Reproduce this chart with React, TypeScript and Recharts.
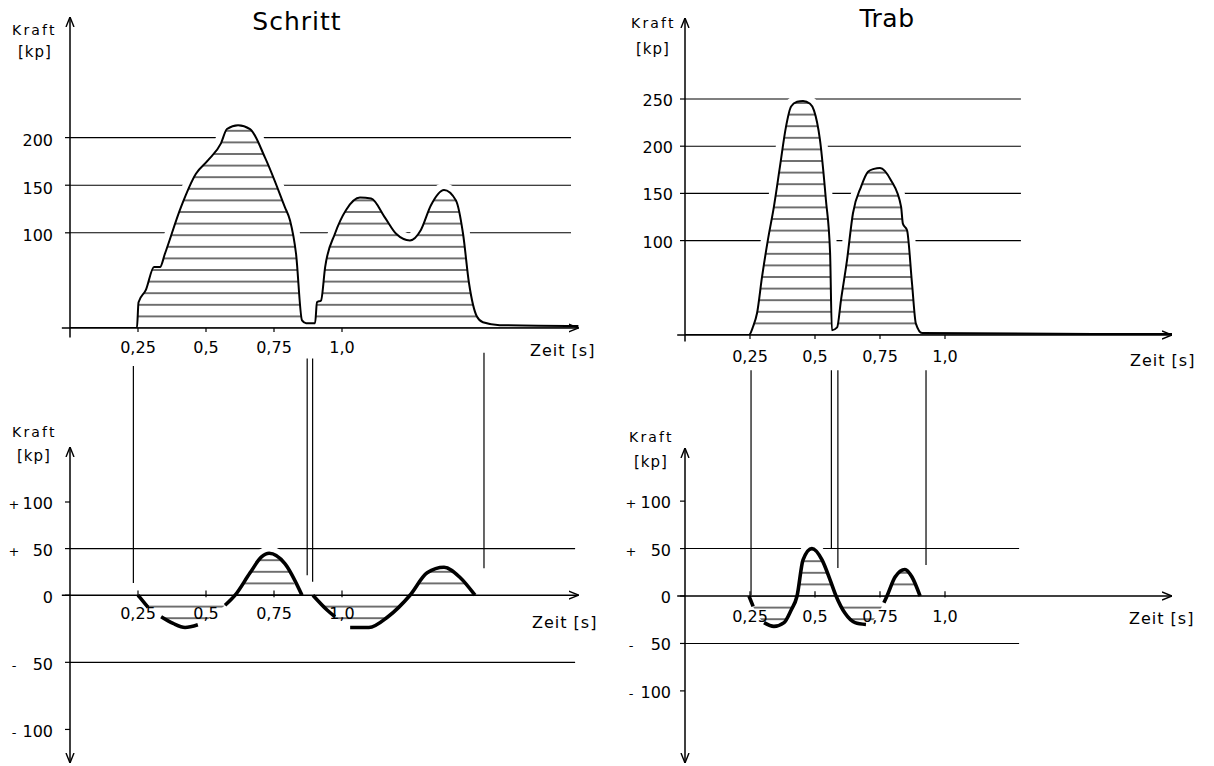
import React from 'react';
import { ComposedChart, Area, Line, XAxis, YAxis, ReferenceLine } from 'recharts';

const PAGE_W = 1214;
const PAGE_H = 766;
const FONT = '"DejaVu Sans", Verdana, sans-serif';

// ---------- data ----------
const timeTicks = [0.25, 0.5, 0.75, 1.0];
const timeTickLabels = ['0,25', '0,5', '0,75', '1,0'];

// Schritt – vertical force (kp)
const schrittVertT = [0, 0.246, 0.252, 0.279, 0.309, 0.331, 0.349, 0.408, 0.463, 0.507, 0.555, 0.577, 0.618, 0.662, 0.717, 0.79, 0.809, 0.831, 0.853, 0.868, 0.901, 0.908, 0.923, 0.938, 0.974, 1.015, 1.066, 1.107, 1.158, 1.199, 1.25, 1.29, 1.327, 1.375, 1.419, 1.445, 1.467, 1.496, 1.518, 1.58, 1.87];
const schrittVertV = [0, 0, 27, 40, 64, 64, 78, 127, 162, 176, 194, 209, 213, 209, 179, 127, 113, 78, 8, 5, 5, 27, 29, 64, 99, 124, 137, 136, 116, 99, 92, 103, 129, 145, 134, 99, 47, 12, 6, 3, 2];
const schrittVertTicks = [100, 150, 200];
const schrittVertGrid = [100, 150, 200];

// Schritt – longitudinal force (kp)
const schrittQuerT = [0.25, 0.287, 0.335, 0.379, 0.423, 0.47, 0.57, 0.607, 0.662, 0.704, 0.732, 0.79, 0.853, 0.893, 0.945, 0.974, 1.03, 1.099, 1.169, 1.25, 1.313, 1.375, 1.434, 1.489];
const schrittQuerV = [0, -9, -16, -21, -24, -22, -7.5, 0, 24, 41, 45, 34, 0, 0, -11, -16, -24, -24, -16, 0, 24, 30, 19, 0];
const schrittQuerGaps = [0.31, 0.52, 0.873, 1.0];
const querTicks = [-100, -50, 0, 50, 100];
const querGrid = [50, -50];

// Schritt – connecting marker lines (time, lower end, upper end in kp of lower panel)
const schrittMarkT = [0.233, 0.872, 0.892, 1.522];
const schrittMarkFrom = [13, 21.5, 14.5, 29];
const schrittMarkTo = [246, 254, 254, 260];

// Trab – vertical force (kp)
const trabVertT = [0, 0.246, 0.262, 0.277, 0.296, 0.319, 0.342, 0.365, 0.388, 0.408, 0.431, 0.454, 0.481, 0.496, 0.519, 0.542, 0.558, 0.565, 0.585, 0.6, 0.623, 0.646, 0.677, 0.704, 0.727, 0.75, 0.792, 0.831, 0.838, 0.854, 0.873, 0.888, 0.912, 1.873];
const trabVertV = [0, 0, 9, 23, 61, 101, 136, 178, 220, 242, 247, 248, 245, 238, 207, 143, 87, 5, 8, 37, 79, 129, 157, 173, 176, 177, 164, 136, 118, 111, 55, 12, 2, 1];
const trabVertTicks = [100, 150, 200, 250];
const trabVertGrid = [100, 150, 200, 250];

// Trab – longitudinal force (kp)
const trabQuerT = [0.246, 0.262, 0.304, 0.342, 0.381, 0.408, 0.431, 0.454, 0.488, 0.527, 0.558, 0.581, 0.615, 0.654, 0.696, 0.765, 0.777, 0.808, 0.846, 0.873, 0.904];
const trabQuerV = [0, -11, -28, -32, -28, -15, 0, 38, 50, 38, 17, 0, -18, -28, -30, -7, 0, 20, 28, 20, 0];
const trabQuerGaps = [0.283, 0.73];

const trabMarkT = [0.254, 0.563, 0.588, 0.927];
const trabMarkFrom = [1, 50, 29.5, 32.6];
const trabMarkTo = [238, 238, 238, 238];

// ---------- helpers ----------
type Pt = { t: number; v: number | null };
const zip = (ts: number[], vs: number[]): Pt[] => ts.map((t, i) => ({ t, v: vs[i] }));
const withGaps = (ts: number[], vs: number[], gaps: number[]): Pt[] =>
  [...zip(ts, vs), ...gaps.map((g) => ({ t: g, v: null }))].sort((a, b) => a.t - b.t);

// piecewise-linear scale: negative side stretched by factor k (as in the drawn axis)
function makeWarpScale(k: number): any {
  let dom: number[] = [0, 1];
  let rng: number[] = [0, 1];
  const w = (v: number) => (v < 0 ? v * k : v);
  const uw = (u: number) => (u < 0 ? u / k : u);
  const scale: any = (v: number) => {
    const a = w(dom[0]);
    const b = w(dom[dom.length - 1]);
    return rng[0] + ((w(v) - a) / (b - a)) * (rng[rng.length - 1] - rng[0]);
  };
  scale.domain = (d?: any) => {
    if (d === undefined) return dom.slice();
    dom = Array.from(d).map(Number);
    return scale;
  };
  scale.range = (r?: any) => {
    if (r === undefined) return rng.slice();
    rng = Array.from(r).map(Number);
    return scale;
  };
  scale.copy = () => makeWarpScale(k).domain(dom).range(rng);
  scale.invert = (px: number) => {
    const a = w(dom[0]);
    const b = w(dom[dom.length - 1]);
    return uw(a + ((px - rng[0]) / (rng[rng.length - 1] - rng[0])) * (b - a));
  };
  scale.ticks = () => querTicks.slice();
  scale.tickFormat = () => (v: number) => String(v);
  scale.nice = () => scale;
  return scale;
}

const XTick = (props: any) => {
  const { x, y, payload } = props;
  const i = timeTicks.indexOf(payload.value);
  return (
    <text x={x} y={y} dy="0.71em" textAnchor="middle" fontFamily={FONT} fontSize={16} fill="#000">
      {i >= 0 ? timeTickLabels[i] : ''}
    </text>
  );
};

const YTick = (props: any) => {
  const { x, y, payload, signed, signDx, ddy } = props;
  const v = payload.value as number;
  const sign = v > 0 ? '+' : v < 0 ? '-' : '';
  return (
    <g>
      <text x={x} y={y + ddy} textAnchor="end" fontFamily={FONT} fontSize={16} fill="#000">
        {signed ? Math.abs(v) : v}
      </text>
      {signed && sign ? (
        <text x={x + signDx} y={y + ddy} textAnchor="middle" fontFamily={FONT} fontSize={13} fill="#000">
          {sign}
        </text>
      ) : null}
    </g>
  );
};

type PanelCfg = {
  id: string;
  plot: { left: number; right: number; top: number; bottom: number };
  xMax: number;
  yDomain: [number, number];
  yScale?: any;
  yTicks: number[];
  signed: boolean;
  lower: boolean;
  data: Pt[];
  pen: Pt[];
  penWidth: number;
  grid: number[];
  gridEnd: number;
  markT: number[];
  markFrom: number[];
  markTo: number[];
  hatchY: number;
  yTickMargin: number;
  xTickMargin: number;
  ddy: number;
  signDx: number;
  extY: number;
  labelOffset: number;
};

function Panel({ c }: { c: PanelCfg }) {
  const { left, right, top, bottom } = c.plot;
  const arrow = `arrow-${c.id}`;
  const hatch = `hatch-${c.id}`;
  const HH = 11.6;
  const margin = {
    top,
    left: left - 1,
    right: PAGE_W - right,
    bottom: c.lower ? PAGE_H - bottom : PAGE_H - bottom - 1,
  };
  const arrowLine = (p: any) => (
    <line x1={p.x1} y1={p.y1} x2={p.x2} y2={p.y2} stroke="#000" strokeWidth={1.5} markerEnd={`url(#${arrow})`} />
  );
  return (
    <div style={{ position: 'absolute', left: 0, top: 0 }}>
      <ComposedChart width={PAGE_W} height={PAGE_H} margin={margin}>
        <defs>
          <marker id={arrow} viewBox="0 0 10 10" refX="10" refY="5" markerWidth="10" markerHeight="10" markerUnits="userSpaceOnUse" orient="auto-start-reverse">
            <path d="M0,1 L10,5 L0,9" fill="none" stroke="#000" strokeWidth="1.4" />
          </marker>
          <pattern id={hatch} patternUnits="userSpaceOnUse" x={0} y={c.hatchY - HH / 2} width={10} height={HH}>
            <line x1={0} x2={10} y1={HH / 2} y2={HH / 2} stroke="#000" strokeWidth={1.1} />
          </pattern>
        </defs>

        {c.grid.map((g) => (
          <ReferenceLine
            key={'g' + g}
            segment={[{ x: 0, y: g }, { x: c.gridEnd, y: g }]}
            stroke="#000"
            strokeWidth={1.1}
            ifOverflow="visible"
            zIndex={-100}
          />
        ))}

        <Area
          data={c.data}
          dataKey="v"
          type="monotone"
          stroke="#fff"
          strokeWidth={14}
          fill="#fff"
          fillOpacity={1}
          baseValue={0}
          dot={false}
          activeDot={false}
          isAnimationActive={false}
        />
        <Area
          data={c.data}
          dataKey="v"
          type="monotone"
          stroke="none"
          fill={`url(#${hatch})`}
          fillOpacity={1}
          baseValue={0}
          dot={false}
          activeDot={false}
          isAnimationActive={false}
        />
        <Line
          data={c.pen}
          dataKey="v"
          type="monotone"
          stroke="#000"
          strokeWidth={c.penWidth}
          dot={false}
          activeDot={false}
          connectNulls={false}
          isAnimationActive={false}
        />

        {c.markT.map((t, i) => (
          <ReferenceLine
            key={'m' + i}
            segment={[{ x: t, y: c.markFrom[i] }, { x: t, y: c.markTo[i] }]}
            stroke="#000"
            strokeWidth={1.2}
            ifOverflow="visible"
            zIndex={600}
          />
        ))}

        {c.lower ? (
          <ReferenceLine
            segment={[{ x: -0.03, y: 0 }, { x: c.xMax, y: 0 }]}
            ifOverflow="visible"
            shape={arrowLine}
            zIndex={650}
          />
        ) : (
          <ReferenceLine
            segment={[{ x: -0.03, y: 0 }, { x: 0, y: 0 }]}
            stroke="#000"
            strokeWidth={1.5}
            ifOverflow="visible"
            zIndex={650}
          />
        )}
        {!c.lower ? (
          <ReferenceLine
            segment={[{ x: 0, y: 0 }, { x: 0, y: -c.extY }]}
            stroke="#000"
            strokeWidth={1.5}
            ifOverflow="visible"
            zIndex={650}
          />
        ) : null}

        {c.lower
          ? timeTicks.map((t, i) => (
              <ReferenceLine
                key={'xt' + i}
                segment={[{ x: t, y: -1.5 }, { x: t, y: 5 }]}
                stroke="#000"
                strokeWidth={1.2}
                ifOverflow="visible"
                zIndex={650}
                label={{
                  value: timeTickLabels[i],
                  position: 'bottom',
                  offset: c.labelOffset,
                  fill: '#000',
                  fontSize: 16,
                  fontFamily: FONT,
                }}
              />
            ))
          : null}

        {c.lower ? (
          <XAxis type="number" dataKey="t" domain={[0, c.xMax]} allowDataOverflow hide />
        ) : (
          <XAxis
            type="number"
            dataKey="t"
            domain={[0, c.xMax]}
            allowDataOverflow
            ticks={timeTicks}
            interval={0}
            height={1}
            tickSize={4}
            tickMargin={c.xTickMargin}
            tick={<XTick />}
            tickLine={{ stroke: '#000', strokeWidth: 1.2 }}
            axisLine={{ stroke: '#000', strokeWidth: 1.5, markerEnd: `url(#${arrow})` }}
          />
        )}
        <YAxis
          type="number"
          domain={c.yDomain}
          allowDataOverflow
          scale={c.yScale ? c.yScale : 'linear'}
          ticks={c.yTicks}
          interval={0}
          width={1}
          tickSize={5}
          tickMargin={c.yTickMargin}
          tick={<YTick signed={c.signed} signDx={c.signDx} ddy={c.ddy} />}
          tickLine={{ stroke: '#000', strokeWidth: 1.2 }}
          axisLine={
            c.lower
              ? { stroke: '#000', strokeWidth: 1.5, markerStart: `url(#${arrow})`, markerEnd: `url(#${arrow})` }
              : { stroke: '#000', strokeWidth: 1.5, markerStart: `url(#${arrow})` }
          }
        />
      </ComposedChart>
    </div>
  );
}

const panels: PanelCfg[] = [
  {
    id: 'sv',
    plot: { left: 70, right: 70 + 1.87 * 272, top: 17, bottom: 328 },
    xMax: 1.87,
    yDomain: [0, 326.7],
    yTicks: schrittVertTicks,
    signed: false,
    lower: false,
    data: zip(schrittVertT, schrittVertV),
    pen: zip(schrittVertT, schrittVertV),
    penWidth: 2,
    grid: schrittVertGrid,
    gridEnd: 1.842,
    markT: [],
    markFrom: [],
    markTo: [],
    hatchY: 328,
    yTickMargin: 12,
    xTickMargin: 10,
    ddy: 8.5,
    signDx: 0,
    extY: 10,
    labelOffset: 0,
  },
  {
    id: 'sq',
    plot: { left: 70, right: 70 + 1.87 * 272, top: 447, bottom: 763 },
    xMax: 1.87,
    yDomain: [-125, 159],
    yScale: makeWarpScale(1.44),
    yTicks: querTicks,
    signed: true,
    lower: true,
    data: zip(schrittQuerT, schrittQuerV),
    pen: withGaps(schrittQuerT, schrittQuerV, schrittQuerGaps),
    penWidth: 3.6,
    grid: querGrid,
    gridEnd: 1.857,
    markT: schrittMarkT,
    markFrom: schrittMarkFrom,
    markTo: schrittMarkTo,
    hatchY: 595,
    yTickMargin: 12,
    xTickMargin: 10,
    ddy: 7.5,
    signDx: -39,
    extY: 0,
    labelOffset: 10,
  },
  {
    id: 'tv',
    plot: { left: 685, right: 685 + 1.873 * 260, top: 18, bottom: 335 },
    xMax: 1.873,
    yDomain: [0, 335.8],
    yTicks: trabVertTicks,
    signed: false,
    lower: false,
    data: zip(trabVertT, trabVertV),
    pen: zip(trabVertT, trabVertV),
    penWidth: 2,
    grid: trabVertGrid,
    gridEnd: 1.292,
    markT: [],
    markFrom: [],
    markTo: [],
    hatchY: 335,
    yTickMargin: 7,
    xTickMargin: 12,
    ddy: 7,
    signDx: 0,
    extY: 7,
    labelOffset: 0,
  },
  {
    id: 'tq',
    plot: { left: 685, right: 685 + 1.873 * 260, top: 448, bottom: 763 },
    xMax: 1.873,
    yDomain: [-176, 156],
    yTicks: querTicks,
    signed: true,
    lower: true,
    data: zip(trabQuerT, trabQuerV),
    pen: withGaps(trabQuerT, trabQuerV, trabQuerGaps),
    penWidth: 3.6,
    grid: querGrid,
    gridEnd: 1.285,
    markT: trabMarkT,
    markFrom: trabMarkFrom,
    markTo: trabMarkTo,
    hatchY: 596,
    yTickMargin: 9,
    xTickMargin: 12,
    ddy: 7,
    signDx: -40,
    extY: 0,
    labelOffset: 13,
  },
];

const txt = { fontFamily: FONT, fill: '#000' } as const;

export default function App() {
  return (
    <div style={{ position: 'absolute', left: 0, top: 0, width: PAGE_W, height: PAGE_H, background: '#fff', overflow: 'hidden' }}>
      {panels.map((p) => (
        <Panel key={p.id} c={p} />
      ))}
      <svg width={PAGE_W} height={PAGE_H} style={{ position: 'absolute', left: 0, top: 0, pointerEvents: 'none' }}>
        <text x={297} y={30} textAnchor="middle" fontSize={25} letterSpacing={1} {...txt}>Schritt</text>
        <text x={887} y={27} textAnchor="middle" fontSize={25} letterSpacing={0.5} {...txt}>Trab</text>

        <text x={12} y={35} fontSize={14} letterSpacing={2.2} {...txt}>Kraft</text>
        <text x={18} y={57} fontSize={15} letterSpacing={1} {...txt}>[kp]</text>
        <text x={631} y={28} fontSize={14} letterSpacing={2.2} {...txt}>Kraft</text>
        <text x={636} y={54} fontSize={15} letterSpacing={1} {...txt}>[kp]</text>
        <text x={12} y={437} fontSize={14} letterSpacing={2.2} {...txt}>Kraft</text>
        <text x={17} y={461} fontSize={15} letterSpacing={1} {...txt}>[kp]</text>
        <text x={629} y={442} fontSize={14} letterSpacing={2.2} {...txt}>Kraft</text>
        <text x={634} y={467} fontSize={15} letterSpacing={1} {...txt}>[kp]</text>

        <text x={530} y={356} fontSize={16} letterSpacing={1} {...txt}>Zeit [s]</text>
        <text x={532} y={628} fontSize={16} letterSpacing={1} {...txt}>Zeit [s]</text>
        <text x={1130} y={366} fontSize={16} letterSpacing={1} {...txt}>Zeit [s]</text>
        <text x={1129} y={624} fontSize={16} letterSpacing={1} {...txt}>Zeit [s]</text>
      </svg>
    </div>
  );
}
